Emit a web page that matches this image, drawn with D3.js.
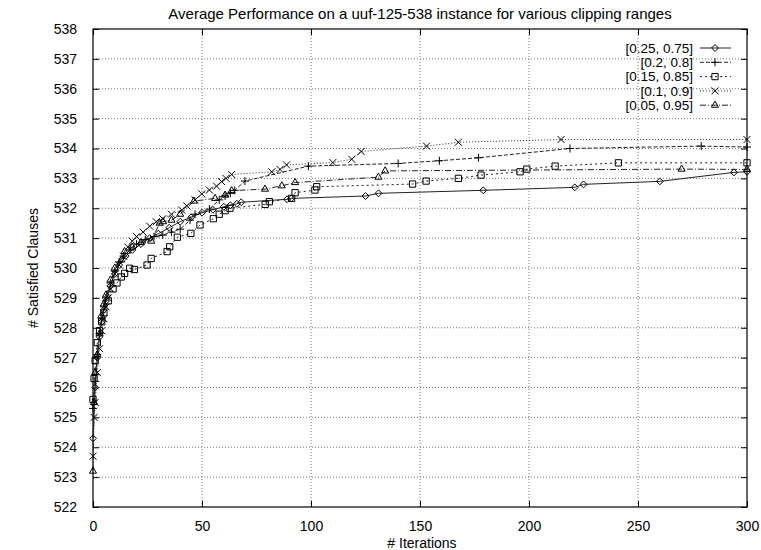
<!DOCTYPE html>
<html>
<head>
<meta charset="utf-8">
<script src="https://cdn.jsdelivr.net/npm/d3@7"></script>
<style>
  body { margin: 0; background: #fff; }
  text { font-family: "Liberation Sans", Arial, sans-serif; fill: #000; }
</style>
</head>
<body>
<div id="chart"></div>
<script>
// series values: [iteration, satisfied clauses]
const labels = ['[0.25, 0.75]', '[0.2, 0.8]', '[0.15, 0.85]', '[0.1, 0.9]', '[0.05, 0.95]'];

const s025 = [[0,524.3],[1,526.0],[2,527.0],[3,527.7],[4,528.2],[5,528.6],[6,528.9],[8,529.4],[10,529.8],
  [12,530.1],[15,530.4],[18,530.6],[22,530.8],[26,531.0],[30,531.15],[35,531.35],[40,531.55],[45,531.7],
  [50,531.85],[55,531.95],[60,532.05],[63,532.1],[66,532.15],[68,532.2],[89,532.3],[91,532.33],
  [125,532.41],[131,532.5],[179,532.6],[221,532.7],[225,532.8],[260,532.9],[294,533.2],[300,533.22]];

const s02 = [[0,525.3],[1,526.2],[2,527.1],[3,527.8],[4,528.3],[5,528.7],[6,529.0],[8,529.5],[10,529.9],
  [12,530.2],[14,530.4],[17,530.6],[20,530.8],[24,530.95],[28,531.05],[32,531.1],[36,531.2],[40,531.3],
  [44.5,531.6],[46.8,531.8],[53.4,531.97],[57.9,532.28],[60.6,532.41],[63,532.5],[65,532.6],[69.7,532.91],
  [98.8,533.41],[140,533.5],[158.9,533.59],[176.8,533.69],[218.8,534.0],[279,534.08],[300,534.05]];

const s015 = [[0,525.6],[0.5,526.3],[1,526.9],[2,527.5],[3,527.9],[4,528.2],[5,528.5],[7,528.9],[9.2,529.3],
  [11,529.5],[13,529.7],[14.5,529.82],[16.8,529.99],[19,529.95],[24.8,530.1],[26.7,530.32],[34,530.55],
  [35.2,530.71],[38.7,531.03],[44.9,531.16],[49.1,531.44],[55.2,531.65],[57.9,531.8],[60.6,531.92],
  [62.8,532.0],[79,532.13],[80.9,532.22],[91.1,532.33],[92.7,532.52],[101.8,532.61],[102.6,532.72],
  [146.6,532.81],[152.8,532.91],[167.6,533.0],[178,533.11],[195.9,533.22],[199,533.31],[212,533.41],
  [241,533.52],[300,533.52]];

const s01 = [[0,523.7],[0.5,525.0],[1,525.5],[2,526.5],[3,527.3],[4,527.9],[5,528.3],[6,528.7],[7,529.0],
  [8,529.3],[10,529.8],[12,530.1],[14,530.4],[16,530.7],[18,530.9],[20,531.05],[23,531.2],[26,531.4],
  [29,531.55],[32,531.65],[36,531.8],[40.7,531.94],[43,532.08],[46.8,532.28],[49.9,532.48],[53.4,532.61],
  [56.7,532.74],[59,532.89],[61,533.0],[63.6,533.13],[82,533.22],[85.8,533.3],[88.8,533.45],[110,533.53],
  [118.7,533.64],[123,533.9],[153,534.08],[167.6,534.21],[214.7,534.3],[300,534.3]];

const s005 = [[0,523.2],[0.5,525.5],[1,526.5],[2,527.1],[3,527.8],[3.8,528.4],[5,528.8],[6,529.1],[8,529.6],
  [10,530.0],[13,530.27],[14.5,530.55],[18,530.7],[22,530.85],[26.7,530.9],[30.6,531.5],[32.1,531.55],
  [36,531.6],[40,531.8],[46.3,532.24],[56,532.33],[60.6,532.44],[63.6,532.59],[78.9,532.64],[86.6,532.75],
  [92.7,532.86],[130.9,533.04],[134,533.25],[270,533.31],[300,533.3]];

const xTicks = [0, 50, 100, 150, 200, 250, 300];
const yTicks = d3.range(522, 539);

const W = 761, H = 550;
const m = { left: 93, right: 14, top: 29, bottom: 43 };

const series = [
  { name: labels[0], data: s025, dash: null, sym: 'diamond' },
  { name: labels[1], data: s02, dash: '4,2', sym: 'plus' },
  { name: labels[2], data: s015, dash: '2,3', sym: 'square' },
  { name: labels[3], data: s01, dash: '1,2', sym: 'cross' },
  { name: labels[4], data: s005, dash: '6,2,1,2', sym: 'triangle' }
];

const svg = d3.select('#chart').append('svg').attr('width', W).attr('height', H);

const x = d3.scaleLinear().domain([0, 300]).range([m.left, W - m.right]);
const y = d3.scaleLinear().domain([522, 538]).range([H - m.bottom, m.top]);

// grid
svg.append('g').selectAll('line').data(xTicks.slice(1, -1)).enter().append('line')
  .attr('x1', d => x(d)).attr('x2', d => x(d))
  .attr('y1', y(538)).attr('y2', y(522))
  .attr('stroke', '#777').attr('stroke-dasharray', '1,2');
svg.append('g').selectAll('line').data(yTicks.slice(1, -1)).enter().append('line')
  .attr('x1', x(0)).attr('x2', x(300))
  .attr('y1', d => y(d)).attr('y2', d => y(d))
  .attr('stroke', '#777').attr('stroke-dasharray', '1,2');

// axes with inward ticks, mirrored on top and right
const ax = (g) => {
  g.select('.domain').remove();
  g.selectAll('text').style('font-size', '14px');
};
svg.append('g').attr('transform', `translate(0,${y(522)})`)
  .call(d3.axisBottom(x).tickValues(xTicks).tickSize(-6).tickPadding(14)).call(ax);
svg.append('g').attr('transform', `translate(0,${y(538)})`)
  .call(d3.axisTop(x).tickValues(xTicks).tickSize(-6).tickFormat('')).call(ax);
svg.append('g').attr('transform', `translate(${x(0)},0)`)
  .call(d3.axisLeft(y).tickValues(yTicks).tickSize(-6).tickPadding(16)).call(ax);
svg.append('g').attr('transform', `translate(${x(300)},0)`)
  .call(d3.axisRight(y).tickValues(yTicks).tickSize(-6).tickFormat('')).call(ax);

svg.append('rect')
  .attr('x', x(0)).attr('y', y(538))
  .attr('width', x(300) - x(0)).attr('height', y(522) - y(538))
  .attr('fill', 'none').attr('stroke', '#000').attr('stroke-width', 1.2);

// markers
const sym = {
  diamond: d3.symbol().type(d3.symbolDiamond2).size(30),
  square: d3.symbol().type(d3.symbolSquare2).size(50),
  triangle: d3.symbol().type(d3.symbolTriangle2).size(36),
  plus: () => 'M-4,0H4M0,-4V4',
  cross: () => 'M-3.5,-3.5L3.5,3.5M-3.5,3.5L3.5,-3.5'
};

const line = d3.line().x(d => x(d[0])).y(d => y(d[1]));

series.forEach(s => {
  svg.append('path').datum(s.data)
    .attr('d', line)
    .attr('fill', 'none').attr('stroke', '#222').attr('stroke-width', 1)
    .attr('stroke-dasharray', s.dash);
  svg.append('g').selectAll('path').data(s.data).enter().append('path')
    .attr('transform', d => `translate(${x(d[0])},${y(d[1])})`)
    .attr('d', sym[s.sym])
    .attr('fill', 'none').attr('stroke', '#000').attr('stroke-width', 1);
});

// legend
const leg = svg.append('g');
series.forEach((s, i) => {
  const ly = 48 + i * 14.3;
  leg.append('text').attr('x', 693).attr('y', ly).attr('dy', '0.35em')
    .attr('text-anchor', 'end').style('font-size', '13.5px').text(s.name);
  leg.append('line').attr('x1', 700).attr('x2', 731).attr('y1', ly).attr('y2', ly)
    .attr('stroke', '#222').attr('stroke-dasharray', s.dash);
  leg.append('path').attr('transform', `translate(715,${ly})`)
    .attr('d', sym[s.sym]).attr('fill', 'none').attr('stroke', '#000');
});

// titles
svg.append('text').attr('x', (x(0) + x(300)) / 2).attr('y', 19)
  .attr('text-anchor', 'middle').style('font-size', '15px')
  .text('Average Performance on a uuf-125-538 instance for various clipping ranges');
svg.append('text').attr('x', (x(0) + x(300)) / 2 + 2).attr('y', 548)
  .attr('text-anchor', 'middle').style('font-size', '14px').text('# Iterations');
svg.append('text').attr('transform', `translate(38,${(y(522) + y(538)) / 2}) rotate(-90)`)
  .attr('text-anchor', 'middle').style('font-size', '14px').text('# Satisfied Clauses');
</script>
</body>
</html>
